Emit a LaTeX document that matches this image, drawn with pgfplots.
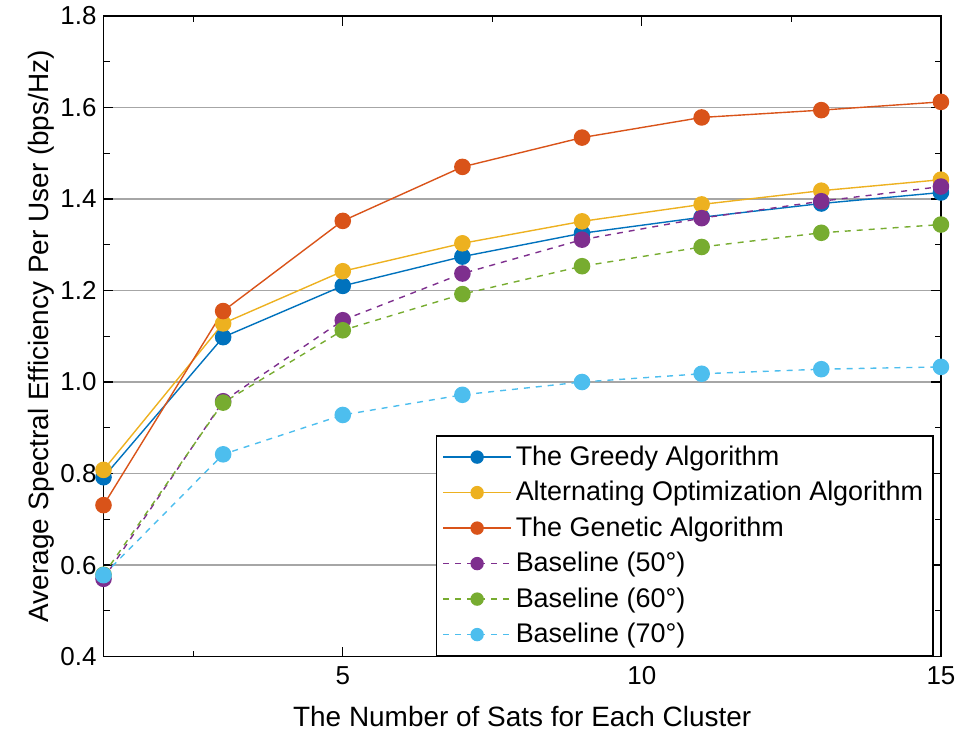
\documentclass[border=0pt]{standalone}
\usepackage{pgfplots}
\pgfplotsset{compat=1.18}
\usepackage{fontspec}
\setmainfont{Liberation Sans}
\definecolor{mblue}{rgb}{0,0.447,0.741}
\definecolor{morange}{rgb}{0.85,0.325,0.098}
\definecolor{myellow}{rgb}{0.929,0.694,0.125}
\definecolor{mpurple}{rgb}{0.494,0.184,0.556}
\definecolor{mgreen}{rgb}{0.466,0.674,0.188}
\definecolor{mcyan}{rgb}{0.301,0.745,0.933}
\begin{document}
\begin{tikzpicture}
\begin{axis}[
  scale only axis,
  width=419.5pt, height=321pt,
  xmin=1, xmax=15, ymin=0.4, ymax=1.8,
  xtick={5,10,15},
  minor xtick={2.5,7.5,12.5},
  ytick={0.4,0.6,...,1.81},
  minor y tick num=1,
  tick align=inside,
  major tick length=5pt,
  minor tick length=3pt,
  ymajorgrids,
  major grid style={gray!70, line width=0.6pt},
  axis line style={black, line width=0.8pt},
  every tick/.style={black, line width=0.6pt},
  /pgf/number format/assume math mode=true,
  yticklabel style={/pgf/number format/.cd, fixed, fixed zerofill, precision=1},
  xticklabel style={yshift=-1.5pt},
  tick label style={font=\fontsize{13}{15}\selectfont},
  label style={font=\fontsize{14}{16}\selectfont},
  ylabel style={yshift=-4pt},
  xlabel style={yshift=-4pt},
  xlabel={The Number of Sats for Each Cluster},
  ylabel={Average Spectral Efficiency Per User (bps/Hz)},
  clip=false,
  legend style={at={(rel axis cs:1,0)}, xshift=-3.5pt, anchor=south east,
    draw=black, line width=0.8pt, font=\fontsize{13.5}{15.5}\selectfont,
    row sep=2.5pt, inner sep=3pt, cells={anchor=west}},
  legend image code/.code={\draw[mark repeat=2,mark phase=2] plot coordinates {(0pt,0pt) (17pt,0pt) (34pt,0pt)};},
  legend image post style={line width=0.7pt, mark size=3pt},
  every axis plot/.append style={line width=0.7pt, mark=*, mark size=3.8pt},
]
\addplot[color=mblue, mark options={fill=mblue, draw=mblue}] coordinates {
(1,0.792) (3,1.098) (5,1.210) (7,1.274) (9,1.325) (11,1.360) (13,1.390) (15,1.414)};
\addlegendentry{The Greedy Algorithm}
\addplot[color=myellow, mark options={fill=myellow, draw=myellow}] coordinates {
(1,0.808) (3,1.128) (5,1.242) (7,1.303) (9,1.351) (11,1.388) (13,1.418) (15,1.442)};
\addlegendentry{Alternating Optimization Algorithm}
\addplot[color=morange, mark options={fill=morange, draw=morange}] coordinates {
(1,0.731) (3,1.155) (5,1.352) (7,1.470) (9,1.534) (11,1.578) (13,1.594) (15,1.612)};
\addlegendentry{The Genetic Algorithm}
\addplot[color=mpurple, dashed, mark options={solid, fill=mpurple, draw=mpurple}] coordinates {
(1,0.570) (3,0.958) (5,1.135) (7,1.237) (9,1.311) (11,1.358) (13,1.395) (15,1.427)};
\addlegendentry{Baseline (50°)}
\addplot[color=mgreen, dashed, mark options={solid, fill=mgreen, draw=mgreen}] coordinates {
(1,0.579) (3,0.955) (5,1.113) (7,1.192) (9,1.253) (11,1.295) (13,1.326) (15,1.344)};
\addlegendentry{Baseline (60°)}
\addplot[color=mcyan, dashed, mark options={solid, fill=mcyan, draw=mcyan}] coordinates {
(1,0.578) (3,0.842) (5,0.928) (7,0.972) (9,1.000) (11,1.018) (13,1.028) (15,1.033)};
\addlegendentry{Baseline (70°)}
\end{axis}
\path ([xshift=-11pt]current bounding box.west);
\end{tikzpicture}
\end{document}
